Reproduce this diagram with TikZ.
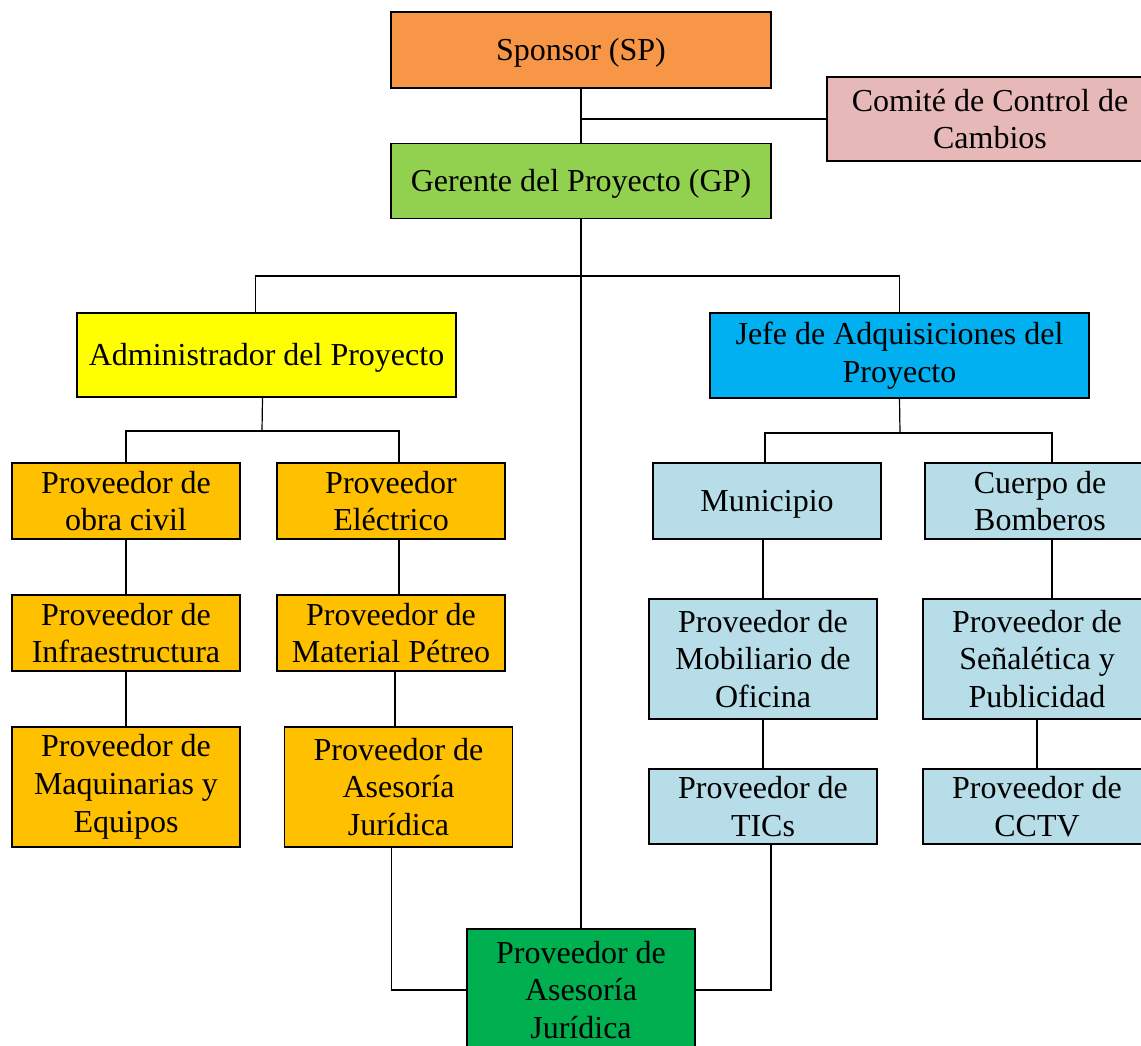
\documentclass[tikz,border=0pt]{standalone}
\usepackage{fontspec}
\setmainfont{Liberation Serif}
\usepackage{xcolor}
\usepackage{tikz}
\usetikzlibrary{positioning, calc}
\definecolor{orgorange}{RGB}{247, 150, 70}
\definecolor{orgpink}{RGB}{230, 185, 184}
\definecolor{orglime}{RGB}{146, 208, 80}
\definecolor{orgyellow}{RGB}{255, 255, 0}
\definecolor{orgcyan}{RGB}{0, 176, 240}
\definecolor{orggold}{RGB}{255, 192, 0}
\definecolor{orgpale}{RGB}{183, 222, 232}
\definecolor{orggreen}{RGB}{0, 176, 80}

\begin{document}
\begin{tikzpicture}[
    x=0.5pt, y=-0.5pt,
    box/.style={rectangle, draw=black, line width=0.7pt, fill=#1, inner sep=0pt, align=center,
        font=\fontsize{16}{18.9}\selectfont},
    oneline/.style={text height=12pt, text depth=2pt},
    wide/.style={minimum width=190pt, minimum height=38pt},
    small/.style={minimum width=114pt, minimum height=38pt},
    tall/.style={minimum width=114pt, minimum height=60pt},
    link/.style={draw=black, line width=0.6pt}
]
\useasboundingbox (0,0) rectangle (1141,1045);

% Top levels
\node[box=orgorange, wide, oneline] (sp) at (581, 50) {Sponsor (SP)};
\node[box=orgpink, minimum width=163pt, minimum height=42pt] (ccc) at (990, 119) {Comité de Control de\\Cambios};
\node[box=orglime, wide, oneline, minimum height=37.5pt] (gp) at (581, 181) {Gerente del Proyecto (GP)};
\node[box=orgyellow, wide, oneline, minimum width=189.5pt, minimum height=42pt] (adm) at (266.5, 355) {Administrador del Proyecto};
\node[box=orgcyan, wide, minimum width=189.5pt, minimum height=42.5pt] (jefe) at (899.5, 355.5) {Jefe de Adquisiciones del\\Proyecto};

% Left branch — suppliers
\node[box=orggold, small] (obra) at (126, 501) {Proveedor de\\obra civil};
\node[box=orggold, small] (ele) at (391, 501) {Proveedor\\Eléctrico};
\node[box=orggold, small] (inf) at (126, 633) {Proveedor de\\Infraestructura};
\node[box=orggold, small] (pet) at (391, 633) {Proveedor de\\Material Pétreo};
\node[box=orggold, tall] (maq) at (126, 787) {Proveedor de\\Maquinarias y\\Equipos};
\node[box=orggold, tall] (asl) at (398.5, 787) {Proveedor de\\Asesoría\\Jurídica};

% Right branch — institutions and suppliers
\node[box=orgpale, small, oneline] (mun) at (767, 501) {Municipio};
\node[box=orgpale, small, minimum width=115pt] (bom) at (1040, 501) {Cuerpo de\\Bomberos};
\node[box=orgpale, tall] (mob) at (763, 659) {Proveedor de\\Mobiliario de\\Oficina};
\node[box=orgpale, tall] (sen) at (1037, 659) {Proveedor de\\Señalética y\\Publicidad};
\node[box=orgpale, small, minimum height=37.5pt] (tic) at (763, 806.5) {Proveedor de\\TICs};
\node[box=orgpale, small, minimum height=37.5pt] (cctv) at (1037, 806.5) {Proveedor de\\CCTV};

% Bottom
\node[box=orggreen, tall, minimum height=61pt] (asj) at (581, 990) {Proveedor de\\Asesoría\\Jurídica};

% Bus points
\coordinate (bustop) at (581, 276);
\coordinate (busadm) at (262, 431);
\coordinate (busjefe) at (900, 433);

% Main spine
\draw[link] (sp) -- (gp);
\draw[link] (ccc.west) -- (ccc.west -| sp.south);
\draw[link] (gp) -- (asj);
\draw[link] ([xshift=-5.5pt]adm.north) |- (bustop) -| (jefe.north);

% Left connectors
\draw[link] ([xshift=-2pt]adm.south) -- (busadm);
\draw[link] (obra.north) |- (busadm) -| ([xshift=4pt]ele.north);
\draw[link] (obra) -- (inf);
\draw[link] (inf) -- (maq);
\draw[link] ([xshift=4pt]ele.south) -- ([xshift=4pt]pet.north);
\draw[link] ([xshift=2pt]pet.south) -- ([xshift=2pt]pet.south |- asl.north);

% Right connectors
\draw[link] (jefe.south) -- (busjefe);
\draw[link] ([xshift=-1pt]mun.north) |- (busjefe) -| ([xshift=6pt]bom.north);
\draw[link] (mob.north) -- (mob.north |- mun.south);
\draw[link] (mob) -- (tic);
\draw[link] ([xshift=6pt]bom.south) -- ([xshift=6pt]bom.south |- sen.north);
\draw[link] (sen) -- (cctv);

% Into the bottom box
\draw[link] ([xshift=-3.5pt]asl.south) |- (asj.west);
\draw[link] ([xshift=4pt]tic.south) |- (asj.east);

\end{tikzpicture}
\end{document}
